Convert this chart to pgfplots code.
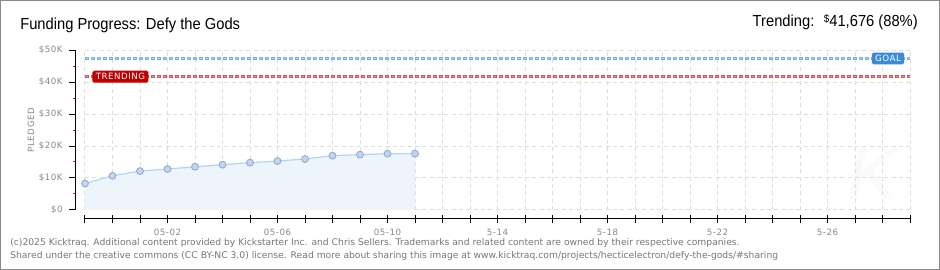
\documentclass[border=0pt]{standalone}
\usepackage{pgfplots}
\pgfplotsset{compat=1.18}
\usepackage{fontspec}
\usepackage{graphicx}
\setmainfont{DejaVu Sans}
\newfontfamily\titlefont{Liberation Sans}
\newfontfamily\pixfont[LetterSpace=6]{DejaVu Sans}

\definecolor{frame}{HTML}{8A8A8A}
\definecolor{gridc}{HTML}{DDDDDD}
\definecolor{areafill}{HTML}{EDF4FC}
\definecolor{linec}{HTML}{B6D4F2}
\definecolor{markfill}{HTML}{BCD6F4}
\definecolor{markedge}{HTML}{8EA8C8}
\definecolor{goalline}{HTML}{78AEE6}
\definecolor{goallight}{HTML}{B4D2F2}
\definecolor{goalbox}{HTML}{3A8AD8}
\definecolor{trendline}{HTML}{CC5A5A}
\definecolor{trendlight}{HTML}{E8A0A0}
\definecolor{trendbox}{HTML}{C00000}
\definecolor{ticktext}{HTML}{888888}
\definecolor{foot}{HTML}{777777}

\pgfplotsset{
  levelout/.style={line width=2.25pt, dash pattern=on 3pt off 1.5pt},
  levelin/.style={line width=0.8pt, dash pattern=on 0pt off 0.75pt on 1.5pt off 2.25pt},
}

\begin{document}
\begin{tikzpicture}
% canvas in pixel units, y pointing down
\begin{scope}[x=0.75pt,y=-0.75pt]
  \useasboundingbox (0,0) rectangle (940,270);
  \fill[white] (0,0) rectangle (940,270);
  \draw[frame, line width=0.75pt] (0.5,0.5) rectangle (939.5,269.5);
  % faint logo mark
  \node[text=black!2, font=\titlefont\itshape\fontsize{56}{56}\selectfont] at (872,174) {K};
\end{scope}

\begin{axis}[
  at={(63.75pt,-157.5pt)}, anchor=south west,
  scale only axis, width=618.75pt, height=120pt,
  xmin=0, xmax=30, ymin=0, ymax=50000,
  axis lines=left, axis line style={black, line width=0.75pt, -},
  axis x line shift=6.75pt, axis y line shift=6.75pt,
  xtick={0,...,30},
  xticklabels={,,,05-02,,,,05-06,,,,05-10,,,,5-14,,,,5-18,,,,5-22,,,,5-26,,,},
  ytick={0,10000,20000,30000,40000,50000},
  yticklabels={\$0,\$10K,\$20K,\$30K,\$40K,\$50K},
  minor ytick={5000,15000,25000,35000,45000},
  scaled y ticks=false,
  xtick align=center, ytick align=outside,
  major tick length=5.5pt, minor tick length=2.25pt,
  major tick style={black, line width=0.75pt},
  minor tick style={red, line width=0.75pt},
  grid=major,
  major grid style={gridc, dash pattern=on 3pt off 2.5pt, line width=0.75pt},
  tick label style={font=\pixfont\fontsize{6.5}{7}\selectfont, text=ticktext},
  xticklabel style={yshift=-1pt},
  yticklabel style={xshift=-1pt},
  clip=false,
]
% goal and trending levels
\addplot[goalline, levelout] coordinates {(0,47359) (30,47359)};
\addplot[goallight, levelin] coordinates {(0,47359) (30,47359)};
\addplot[trendline, levelout] coordinates {(0,41676) (30,41676)};
\addplot[trendlight, levelin] coordinates {(0,41676) (30,41676)};
% pledged so far
\addplot[draw=none, fill=areafill] coordinates {
  (0,8270) (1,10690) (2,12170) (3,12800) (4,13520) (5,14150) (6,14780)
  (7,15300) (8,15940) (9,16980) (10,17300) (11,17600) (12,17620)
} \closedcycle;
\addplot[linec, line width=0.9pt, mark=*, mark size=2.6pt,
  mark options={fill=markfill, draw=markedge, line width=0.6pt}] coordinates {
  (0,8270) (1,10690) (2,12170) (3,12800) (4,13520) (5,14150) (6,14780)
  (7,15300) (8,15940) (9,16980) (10,17300) (11,17600) (12,17620)
};
\node[fill=goalbox, text=white, rounded corners=1.2pt, inner xsep=2.5pt, inner ysep=2pt,
  font=\pixfont\fontsize{6.5}{7}\selectfont] at (axis cs:29.2,47359) {GOAL};
\node[fill=trendbox, text=white, rounded corners=1.2pt, inner xsep=2.5pt, inner ysep=2pt,
  font=\pixfont\fontsize{6.5}{7}\selectfont] at (axis cs:1.29,41676) {TRENDING};
\end{axis}

\begin{scope}[x=0.75pt,y=-0.75pt]
  \node[rotate=90, text=ticktext, font=\pixfont\fontsize{6.5}{7}\selectfont] at (31,130) {PLEDGED};
  \node[anchor=base west, inner sep=0pt] at (20,30)
    {\scalebox{0.92}[1]{\titlefont\fontsize{12}{12}\selectfont Funding Progress: Defy the Gods}};
  \node[anchor=base east, inner sep=0pt] at (918,27)
    {\scalebox{0.92}[1]{\titlefont\fontsize{12}{12}\selectfont Trending:~ \raisebox{3pt}{\fontsize{8}{8}\selectfont\$}41,676 (88\%)}};
  \node[anchor=base west, inner sep=0pt, text=foot, font=\fontsize{6.9}{7.5}\selectfont] at (10,246)
    {(c)2025 Kicktraq. Additional content provided by Kickstarter Inc. and Chris Sellers. Trademarks and related content are owned by their respective companies.};
  \node[anchor=base west, inner sep=0pt, text=foot, font=\fontsize{6.9}{7.5}\selectfont] at (10,259)
    {Shared under the creative commons (CC BY-NC 3.0) license. Read more about sharing this image at www.kicktraq.com/projects/hecticelectron/defy-the-gods/\#sharing};
\end{scope}
\end{tikzpicture}
\end{document}
